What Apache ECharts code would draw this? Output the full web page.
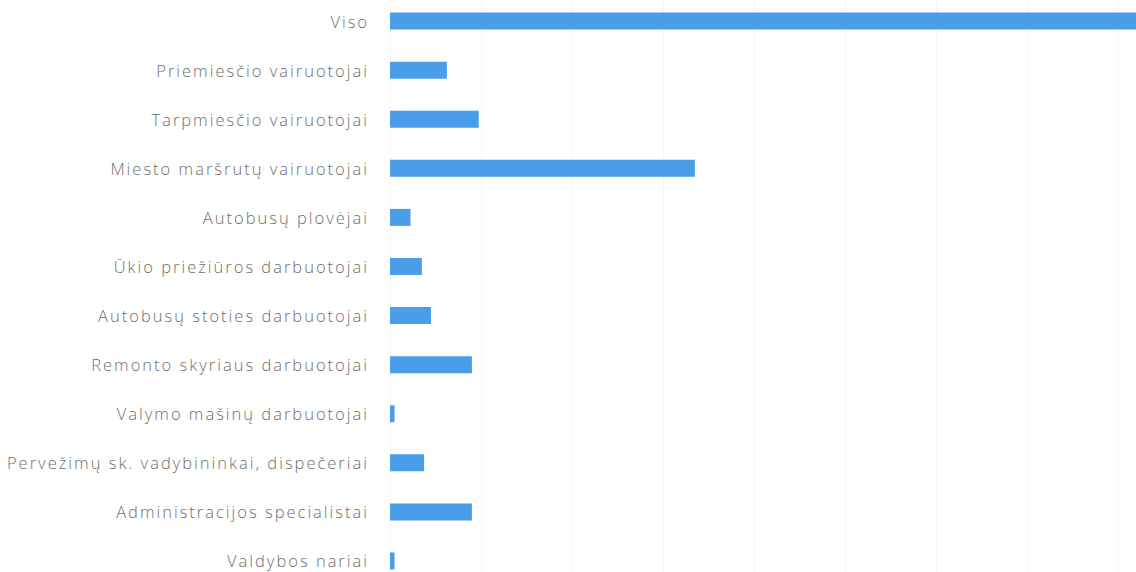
<!DOCTYPE html>
<html>
<head>
<meta charset="utf-8">
<script src="https://cdn.jsdelivr.net/npm/echarts@6/dist/echarts.min.js"></script>
<style>
html,body{margin:0;padding:0;background:#fff;overflow:hidden;width:1136px;height:572px}
#c{position:absolute;left:0;top:-4px;width:1250px;height:590px}
#c svg text{letter-spacing:2px}
</style>
</head>
<body>
<div id="c"></div>
<script>
const categories = [
  "Viso",
  "Priemiesčio vairuotojai",
  "Tarpmiesčio vairuotojai",
  "Miesto maršrutų vairuotojai",
  "Autobusų plovėjai",
  "Ūkio priežiūros darbuotojai",
  "Autobusų stoties darbuotojai",
  "Remonto skyriaus darbuotojai",
  "Valymo mašinų darbuotojai",
  "Pervežimų sk. vadybininkai, dispečeriai",
  "Administracijos specialistai",
  "Valdybos nariai"
];
const values = [165, 12.5, 19.5, 67, 4.5, 7, 9, 18, 1, 7.5, 18, 1];

const chart = echarts.init(document.getElementById('c'), null, {renderer: 'svg'});
chart.setOption({
  animation: false,
  backgroundColor: '#ffffff',
  grid: {left: 390, top: 0.5, width: 819, height: 589, containLabel: false},
  xAxis: {
    type: 'value', min: 0, max: 180, interval: 20,
    axisLabel: {show: false}, axisLine: {show: false}, axisTick: {show: false},
    splitLine: {show: true, lineStyle: {color: '#f6f6f6', width: 1}}
  },
  yAxis: {
    type: 'category', data: categories, inverse: true,
    axisLine: {show: false}, axisTick: {show: false},
    axisLabel: {margin: 21, color: '#6e6e6e', fontSize: 16.5, fontFamily: 'Open Sans', fontWeight: 300}
  },
  series: [{
    type: 'bar', data: values, barWidth: 17,
    itemStyle: {color: '#4a9de8'}
  }]
});
</script>
</body>
</html>
